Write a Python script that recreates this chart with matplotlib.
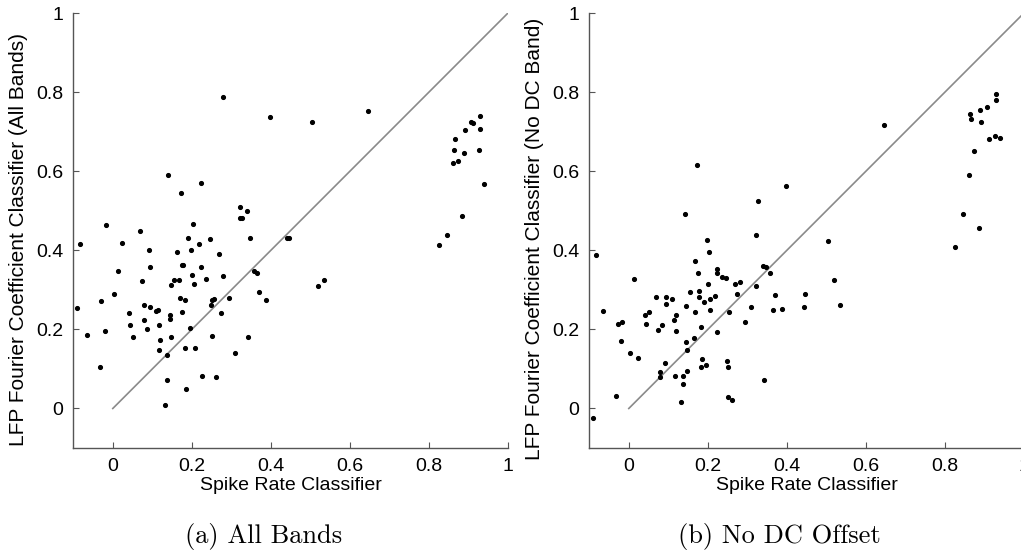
import matplotlib
matplotlib.use('Agg')
import matplotlib.pyplot as plt

# (a) All Bands
left_x = [0.280, 0.398, 0.141, 0.172, 0.224, 0.321, 0.339, 0.323, 0.327, -0.016, 0.069, 0.203,
          0.505, 0.646, 0.441, 0.446, 0.520, 0.534,
          0.930, 0.906, 0.911, 0.892, 0.930, 0.867, 0.864, 0.889, 0.927, 0.861, 0.873, 0.940,
          0.885, 0.847, 0.825,
          -0.082, 0.024, 0.092, 0.163, 0.197, 0.218, 0.190, 0.245, 0.347, 0.270, 0.013, 0.093,
          0.177, 0.174, 0.224, 0.357, 0.364, 0.201, 0.280, 0.073, 0.155, 0.167, 0.148, 0.205,
          0.235, 0.002, 0.370, -0.029, 0.169, 0.182, 0.256, 0.252, 0.248, 0.294, 0.387, -0.090,
          0.078, 0.095, 0.040, 0.109, 0.115, 0.145, 0.176, 0.274, 0.078, 0.144, 0.044, 0.118,
          0.086, 0.196, -0.065, -0.020, 0.051, 0.119, 0.148, 0.251, 0.343, 0.117, 0.182, 0.207,
          0.137, 0.309, -0.033, 0.137, 0.225, 0.261, 0.185, 0.132]
left_y = [0.787, 0.737, 0.592, 0.545, 0.571, 0.510, 0.500, 0.481, 0.483, 0.465, 0.450, 0.468,
          0.725, 0.753, 0.432, 0.432, 0.311, 0.325,
          0.740, 0.725, 0.723, 0.704, 0.708, 0.681, 0.654, 0.646, 0.653, 0.622, 0.625, 0.568,
          0.487, 0.439, 0.413,
          0.417, 0.418, 0.401, 0.395, 0.401, 0.415, 0.432, 0.430, 0.432, 0.392, 0.349, 0.358,
          0.364, 0.362, 0.358, 0.349, 0.342, 0.338, 0.334, 0.322, 0.325, 0.325, 0.312, 0.316,
          0.327, 0.290, 0.296, 0.273, 0.280, 0.274, 0.277, 0.274, 0.263, 0.280, 0.274, 0.255,
          0.262, 0.258, 0.242, 0.246, 0.248, 0.237, 0.245, 0.242, 0.225, 0.226, 0.211, 0.211,
          0.201, 0.203, 0.185, 0.195, 0.180, 0.174, 0.180, 0.184, 0.180, 0.148, 0.153, 0.154,
          0.136, 0.140, 0.105, 0.073, 0.082, 0.080, 0.050, 0.009]

# (b) No DC Offset
right_x = [0.172, 0.142, 0.327, 0.399, 0.646, 0.505, 0.520, 0.535, 0.446, 0.443,
           0.931, 0.931, 0.907, 0.889, 0.865, 0.867, 0.892, 0.912, 0.928, 0.939, 0.873, 0.862,
           0.847, 0.886, 0.826,
           0.322, 0.197, 0.204, -0.083, 0.168, 0.339, 0.347, 0.224, 0.224, 0.357, 0.174, 0.013,
           0.235, 0.245, 0.270, 0.282, 0.201, 0.321, 0.154, 0.179, 0.274, 0.371, 0.070, 0.093,
           0.109, 0.177, 0.206, 0.218, 0.190, 0.095, 0.145, 0.309, -0.066, 0.168, 0.205, 0.255,
           0.364, 0.387, 0.041, 0.051, 0.119, 0.115, -0.016, -0.028, 0.044, 0.085, 0.294, 0.073,
           0.119, 0.183, 0.224, -0.020, 0.164, 0.144, 0.148, 0.002, 0.024, 0.185, 0.248, 0.250,
           0.196, 0.183, 0.092, 0.079, 0.079, 0.148, 0.118, 0.138, 0.138, 0.343, -0.032, 0.132,
           0.251, 0.262, -0.091]
right_y = [0.615, 0.493, 0.525, 0.563, 0.717, 0.423, 0.324, 0.262, 0.289, 0.258,
           0.795, 0.780, 0.764, 0.755, 0.744, 0.733, 0.726, 0.682, 0.689, 0.685, 0.651, 0.591,
           0.493, 0.456, 0.408,
           0.439, 0.426, 0.396, 0.389, 0.374, 0.360, 0.359, 0.353, 0.344, 0.344, 0.342, 0.328,
           0.332, 0.329, 0.316, 0.320, 0.315, 0.311, 0.295, 0.297, 0.290, 0.287, 0.282, 0.283,
           0.276, 0.282, 0.276, 0.285, 0.270, 0.264, 0.259, 0.256, 0.247, 0.245, 0.248, 0.245,
           0.248, 0.253, 0.237, 0.243, 0.237, 0.224, 0.220, 0.214, 0.213, 0.211, 0.220, 0.198,
           0.196, 0.205, 0.194, 0.171, 0.179, 0.167, 0.148, 0.141, 0.128, 0.126, 0.121, 0.105,
           0.110, 0.104, 0.115, 0.092, 0.079, 0.095, 0.083, 0.081, 0.063, 0.071, 0.031, 0.016,
           0.029, 0.022, -0.024]

ticks = [0, 0.2, 0.4, 0.6, 0.8, 1]
tick_labels = ['0', '0.2', '0.4', '0.6', '0.8', '1']

plt.rcParams['font.family'] = ['Liberation Sans Narrow', 'Liberation Sans', 'DejaVu Sans']

fig = plt.figure(figsize=(10.21, 5.56), dpi=100)

W, H = 1021.0, 556.0
panels = [
    (73.3, left_x, left_y, 'LFP Fourier Coefficient Classifier (All Bands)', '(a) All Bands'),
    (589.3, right_x, right_y, 'LFP Fourier Coefficient Classifier (No DC Band)', '(b) No DC Offset'),
]

for x0, xs, ys, ylab, cap in panels:
    ax = fig.add_axes([x0 / W, (H - 448) / H, 434.4 / W, 434.7 / H])
    ax.plot([0, 1], [0, 1], color='#8a8a8a', lw=1.2, zorder=1)
    ax.plot(xs, ys, 'o', color='black', markersize=2.7, zorder=2)
    ax.set_xlim(-0.1, 1)
    ax.set_ylim(-0.1, 1)
    ax.set_xticks(ticks)
    ax.set_xticklabels(tick_labels)
    ax.set_yticks(ticks)
    ax.set_yticklabels(tick_labels)
    for s in ['top', 'right']:
        ax.spines[s].set_visible(False)
    for s in ['left', 'bottom']:
        ax.spines[s].set_color('#555555')
        ax.spines[s].set_linewidth(1.0)
    ax.tick_params(direction='in', length=4, width=0.8, color='#555555',
                   labelsize=14, pad=7)
    ax.set_xlabel('Spike Rate Classifier', fontsize=14, labelpad=2)
    fig.text((x0 - 55) / W, (H - 239) / H, ylab, rotation=90, fontsize=15,
             ha='center', va='center')
    ax.patch.set_alpha(0)
    fig.text((x0 + 190) / W, (H - 536) / H, cap, family='cmr10', fontsize=19,
             ha='center', va='center')

fig.savefig('out.png', dpi=100)
